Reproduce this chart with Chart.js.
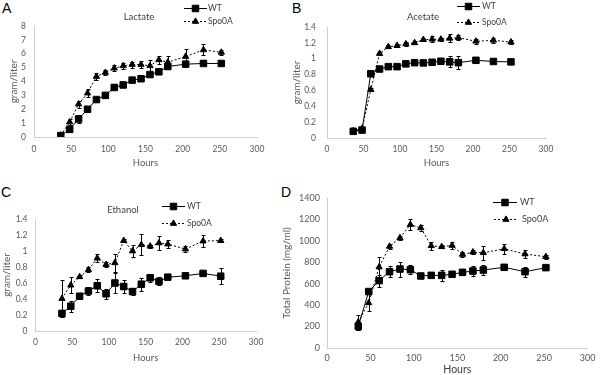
<!DOCTYPE html>
<html><head><meta charset="utf-8">
<script src="https://cdn.jsdelivr.net/npm/chart.js@4/dist/chart.umd.min.js"></script>
<style>
html,body{margin:0;padding:0;background:#fff}
body{width:600px;height:375px;position:relative;overflow:hidden}
canvas{position:absolute;left:0;top:0}
.let{position:absolute;font:14px "Liberation Sans",Arial,sans-serif;color:#000;line-height:16px}
</style></head>
<body>
<div class="let" style="left:2px;top:0px">A</div>
<div class="let" style="left:292px;top:0px">B</div>
<div class="let" style="left:1px;top:184px">C</div>
<div class="let" style="left:281px;top:184px">D</div>
<canvas id="cA" width="600" height="375"></canvas>
<canvas id="cB" width="600" height="375"></canvas>
<canvas id="cC" width="600" height="375"></canvas>
<canvas id="cD" width="600" height="375"></canvas>
<script>
// ---- data ----
const hours = [36,48,60,72,84,96,108,120,132,144,156,168,180,204,228,252];
const seriesNames = ['WT','Spo0A'];

const lactateWT      = [0.1,0.55,1.3,2.0,2.7,3.0,3.57,3.75,4.1,4.2,4.5,4.7,5.08,5.25,5.3,5.3];
const lactateWTErr   = [0.05,0.1,0.3,0.05,0.05,0.05,0.05,0.05,0.1,0.1,0.1,0.05,0.05,0.05,0.05,0.05];
const lactateSpo     = [0.12,1.08,2.37,3.16,4.36,4.65,4.96,5.13,5.22,5.22,5.13,5.56,5.39,5.8,6.28,6.1];
const lactateSpoErr  = [0.05,0.2,0.25,0.3,0.25,0.15,0.2,0.2,0.22,0.25,0.45,0.28,0.45,0.55,0.4,0.2];

const acetateWT      = [0.084,0.1,0.81,0.87,0.9,0.9,0.935,0.95,0.947,0.955,0.968,0.96,0.95,0.98,0.965,0.96];
const acetateWTErr   = [0.01,0.02,0.02,0.02,0.02,0.03,0.02,0.02,0.02,0.03,0.03,0.07,0.08,0.02,0.02,0.02];
const acetateSpo     = [0.09,0.12,0.61,1.065,1.15,1.165,1.186,1.2,1.24,1.245,1.245,1.257,1.266,1.22,1.232,1.21];
const acetateSpoErr  = [0.01,0.02,0.02,0.02,0.02,0.02,0.02,0.02,0.02,0.04,0.02,0.05,0.03,0.03,0.03,0.03];

const ethanolWT      = [0.22,0.31,0.435,0.5,0.565,0.465,0.6,0.556,0.493,0.585,0.665,0.62,0.673,0.69,0.72,0.685];
const ethanolWTErr   = [0.04,0.07,0.04,0.05,0.08,0.06,0.12,0.08,0.04,0.08,0.05,0.05,0.02,0.02,0.02,0.1];
const ethanolSpo     = [0.405,0.573,0.677,0.765,0.91,0.83,0.852,1.13,1.0,1.078,1.06,1.1,1.086,1.024,1.124,1.13];
const ethanolSpoErr  = [0.23,0.1,0.02,0.03,0.05,0.03,0.11,0.02,0.08,0.13,0.02,0.09,0.05,0.04,0.08,0.02];

const proteinWT      = [201,527,629,712,737,731,672,678,678,688,706,718,728,753,712,750];
const proteinWTErr   = [30,20,55,50,70,40,15,15,50,20,20,50,45,15,45,15];
const proteinSpo     = [242,421,756,948,1028,1152,1121,954,945,957,873,895,889,926,877,852];
const proteinSpoErr  = [70,80,90,20,20,50,25,35,15,35,20,20,65,45,35,20];

const xTicks = {min:0, max:300, step:50};
const yTicksA = {min:0, max:8, step:1};
const yTicksB = {min:0, max:1.4, step:0.2};
const yTicksC = {min:0, max:1.4, step:0.2};
const yTicksD = {min:0, max:1400, step:200};

// ---- plugins ----
const errorBars = {
  id:'errorBars',
  afterDatasetsDraw(chart){
    const ctx = chart.ctx, ys = chart.scales.y;
    chart.data.datasets.forEach((ds,i)=>{
      if(!ds.errors) return;
      const meta = chart.getDatasetMeta(i);
      ctx.save();
      ctx.strokeStyle = '#000'; ctx.lineWidth = 1; ctx.setLineDash([]);
      meta.data.forEach((pt,j)=>{
        const v = ds.data[j].y, e = ds.errors[j];
        if(!e) return;
        const yt = Math.round(ys.getPixelForValue(v+e))+0.5, yb = Math.round(ys.getPixelForValue(v-e))+0.5;
        const x = Math.round(pt.x)+0.5;
        ctx.beginPath();
        ctx.moveTo(x,yt); ctx.lineTo(x,yb);
        ctx.moveTo(x-2,yt); ctx.lineTo(x+2,yt);
        ctx.moveTo(x-2,yb); ctx.lineTo(x+2,yb);
        ctx.stroke();
      });
      ctx.restore();
    });
  }
};

const deco = {
  id:'deco',
  afterDraw(chart, args, o){
    const ctx = chart.ctx;
    ctx.save();
    if(o.title){
      ctx.font = o.title.size + 'px Lato';
      ctx.fillStyle = '#404040'; ctx.textAlign = 'center'; ctx.textBaseline = 'middle';
      ctx.fillText(o.title.text, o.title.x, o.title.y);
    }
    chart.data.datasets.forEach((ds,i)=>{
      const r = o.legend[i];
      ctx.strokeStyle = ds.borderColor; ctx.lineWidth = 1;
      ctx.setLineDash(ds.borderDash || []);
      ctx.beginPath(); ctx.moveTo(r.x0, r.y+0.5); ctx.lineTo(r.x1, r.y+0.5); ctx.stroke();
      ctx.setLineDash([]);
      ctx.fillStyle = ds.backgroundColor; ctx.strokeStyle = ds.borderColor;
      Chart.helpers.drawPoint(ctx, {pointStyle: ds.pointStyle, radius: ds.pointRadius, borderWidth: 1, rotation: 0}, (r.x0+r.x1)/2, r.y+0.5);
      ctx.font = o.legendSize + 'px Lato';
      ctx.fillStyle = '#404040'; ctx.textAlign = 'left'; ctx.textBaseline = 'middle';
      ctx.fillText(ds.label, r.tx, r.y+0.5);
    });
    ctx.restore();
  }
};

const GRAY = '#595959';
function fmt(v){ return String(+(+v).toFixed(2)); }

function panel(id, p){
  const yTitleSize = 10, yLH = yTitleSize*1.2;
  const xTitleSize = p.xTitleSize, xLH = xTitleSize*1.2;
  const tickSize = p.tickSize, tLH = tickSize*1.2;
  const padL = p.yTitleX - yLH/2;
  const xBottom = p.xTitleY + xLH/2;
  const mk = (name, vals, errs, dashed) => ({
    label: name,
    data: hours.map((h,i)=>({x:h, y:vals[i]})),
    errors: errs,
    borderColor: '#000', backgroundColor: '#000', borderWidth: 1,
    borderDash: dashed ? [2,2] : [],
    pointStyle: dashed ? 'triangle' : 'rect',
    pointRadius: dashed ? 3.6 : 4.6,
    pointBorderWidth: 1,
    showLine: true, tension: 0, fill: false
  });
  return new Chart(document.getElementById(id), {
    type: 'scatter',
    data: { datasets: [ mk(seriesNames[0], p.wt, p.wtErr, false), mk(seriesNames[1], p.spo, p.spoErr, true) ] },
    options: {
      responsive: false, animation: false, events: [],
      layout: { padding: { left: padL, right: 600 - p.area.r, top: p.area.t, bottom: 375 - xBottom } },
      plugins: {
        legend: {display:false}, tooltip: {enabled:false},
        deco: { title: p.title, legend: p.legend, legendSize: p.legendSize }
      },
      scales: {
        x: {
          type:'linear', min: xTicks.min, max: xTicks.max,
          ticks: { stepSize: xTicks.step, padding: p.xTickY - p.area.b - tLH/2, color: GRAY, font:{family:'Lato', size: tickSize}, maxRotation:0, callback: fmt },
          grid: { display:false, drawTicks:false },
          border: { display:true, color:'#d0d0d0', width:1 },
          title: { display:true, text:'Hours', color: p.xTitleColor, padding:0, font:{family:'Lato', size:xTitleSize} },
          afterFit: s => { s.height = xBottom - p.area.b; }
        },
        y: {
          type:'linear', min: p.yT.min, max: p.yT.max,
          ticks: { stepSize: p.yT.step, padding: p.yTickPad, color: GRAY, font:{family:'Lato', size: tickSize}, callback: fmt },
          grid: { display:false, drawTicks:false },
          border: { display:true, color:'#d0d0d0', width:1 },
          title: { display:true, text: p.yTitle, color: GRAY, padding:0, font:{family:'Lato', size:yTitleSize} },
          afterFit: s => { s.width = p.area.l - padL; }
        }
      }
    },
    plugins: [errorBars, deco]
  });
}

panel('cA', {
  wt: lactateWT, wtErr: lactateWTErr, spo: lactateSpo, spoErr: lactateSpoErr, yT: yTicksA,
  area:{l:34, r:257, t:26, b:137}, yTitleX:14, yTickPad:8, xTickY:149, xTitleY:163,
  tickSize:8.5, xTitleSize:9.5, xTitleColor:GRAY, yTitle:'gram/liter',
  title:{text:'Lactate', x:139, y:17, size:9.5}, legendSize:8.5,
  legend:[{x0:184, x1:207, y:8, tx:208}, {x0:184, x1:207, y:21, tx:208}]
});
panel('cB', {
  wt: acetateWT, wtErr: acetateWTErr, spo: acetateSpo, spoErr: acetateSpoErr, yT: yTicksB,
  area:{l:327, r:546, t:27, b:138}, yTitleX:297, yTickPad:11, xTickY:149, xTitleY:163,
  tickSize:8.5, xTitleSize:9.5, xTitleColor:GRAY, yTitle:'gram/liter',
  title:{text:'Acetate', x:423, y:17, size:9.5}, legendSize:8.5,
  legend:[{x0:457, x1:480, y:6, tx:482}, {x0:457, x1:480, y:22, tx:482}]
});
panel('cC', {
  wt: ethanolWT, wtErr: ethanolWTErr, spo: ethanolSpo, spoErr: ethanolSpoErr, yT: yTicksC,
  area:{l:35.5, r:256, t:219, b:331}, yTitleX:7, yTickPad:8, xTickY:342, xTitleY:358,
  tickSize:8.5, xTitleSize:9.5, xTitleColor:GRAY, yTitle:'gram/liter',
  title:{text:'Ethanol', x:123, y:210, size:9.5}, legendSize:8.5,
  legend:[{x0:162, x1:185, y:206, tx:187}, {x0:162, x1:185, y:223, tx:187}]
});
panel('cD', {
  wt: proteinWT, wtErr: proteinWTErr, spo: proteinSpo, spoErr: proteinSpoErr, yT: yTicksD,
  area:{l:327, r:593, t:198, b:348}, yTitleX:287, yTickPad:7, xTickY:358, xTitleY:370,
  tickSize:9, xTitleSize:10.5, xTitleColor:'#404040', yTitle:'Total Protein (mg/ml)',
  title:null, legendSize:9,
  legend:[{x0:493, x1:517, y:202, tx:520}, {x0:494, x1:518, y:219, tx:522}]
});
</script>
</body></html>
